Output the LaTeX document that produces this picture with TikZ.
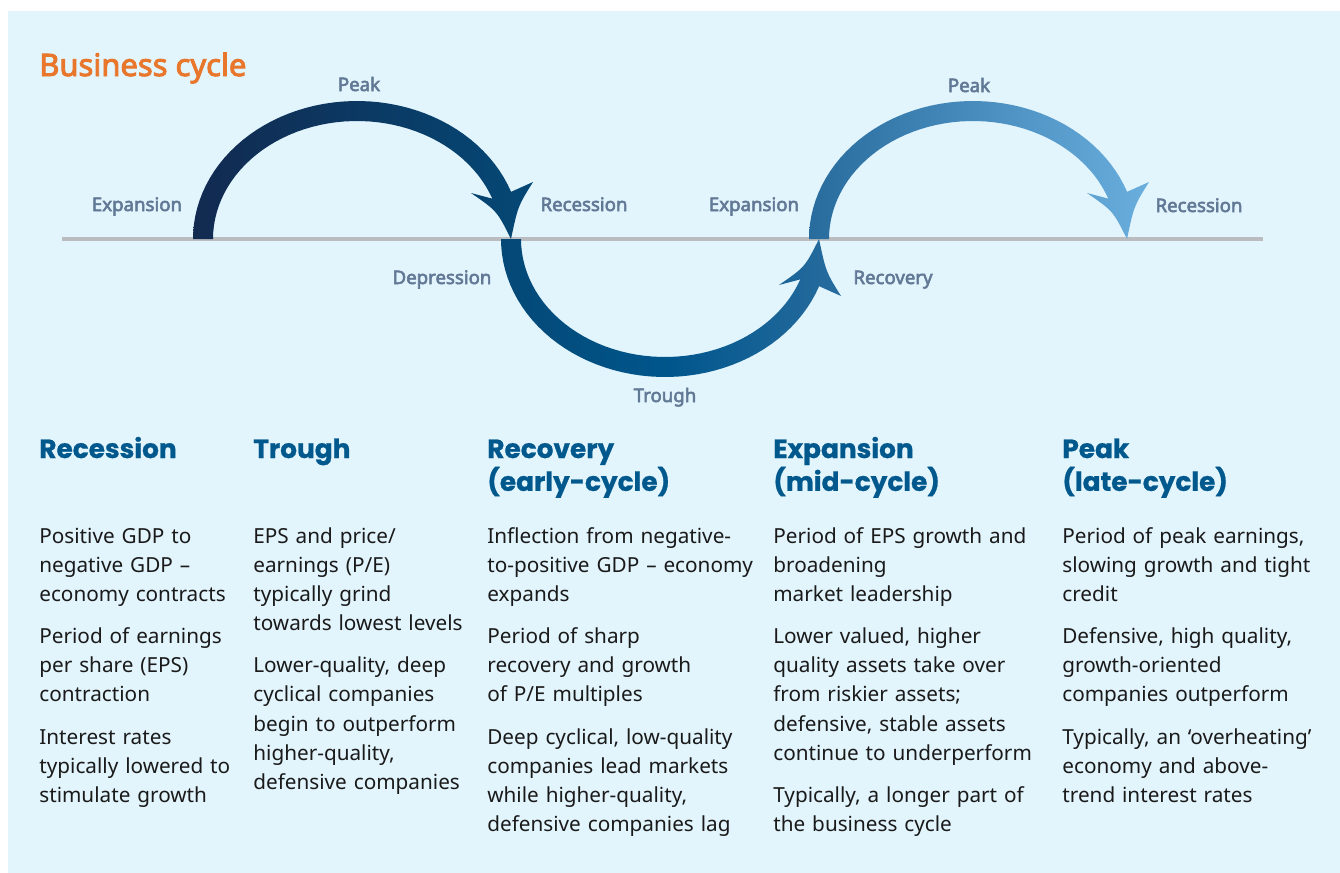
\documentclass[tikz,border=0pt]{standalone}
\usepackage{fontspec}
\setmainfont{Noto Sans}
\newfontfamily\boldsans{Noto Sans}[FakeBold=3]
\newfontfamily\headfont{Poppins}[BoldFeatures={FakeBold=0.8}]
\usepackage{xcolor}
\definecolor{panelbg}{RGB}{226,244,252}
\definecolor{titleor}{RGB}{232,118,43}
\definecolor{labelgr}{RGB}{98,121,150}
\definecolor{headbl}{RGB}{0,88,140}
\definecolor{bodytx}{RGB}{26,26,26}
\definecolor{axisgr}{RGB}{186,188,191}
\definecolor{arca}{RGB}{18,42,80}
\definecolor{arcb}{RGB}{4,72,118}
\definecolor{arcc}{RGB}{0,86,140}
\definecolor{arcd}{RGB}{40,108,158}
\definecolor{arce}{RGB}{106,174,222}
\usepackage{tikz}
\usetikzlibrary{calc}

\begin{document}
\begin{tikzpicture}[x=0.02cm,y=-0.02cm,
  phase/.style={anchor=base,inner sep=0,text=labelgr,font=\boldsans\fontsize{10.6}{12}\selectfont},
  colhead/.style={anchor=base west,inner sep=0,text=headbl,text width=5.4cm,align=left,font=\headfont\fontsize{15}{18.7}\selectfont\bfseries},
  coltext/.style={anchor=base west,inner sep=0,text=bodytx,text width=6cm,align=left,font=\fontsize{11.8}{16.6}\selectfont}]
  \useasboundingbox (0,0) rectangle (1340,873);
  \fill[panelbg] (8,11) rectangle (1340,873);

  \node[anchor=base west,inner sep=0,text=titleor,font=\boldsans\fontsize{17.6}{20}\selectfont] (title) at (39,76) {Business cycle};

  % the axis
  \coordinate (axisL) at (62,239);
  \coordinate (axisR) at (1263,239);
  \draw[axisgr,line width=0.08cm] (axisL) -- (axisR);

  % the three arrows, shaded left to right
  \foreach \cx/\flip/\lc/\mc/\rc in {357/-1/arca/arca!50!arcb/arcb,665/1/arcb/arcc/arcd,973/-1/arcd/arcd!50!arce/arce} {
    \begin{scope}[shift={(\cx,239)},yscale=\flip]
      \shade[left color=\lc,right color=\rc,middle color=\mc]
        plot[variable=\t,domain=180:20,samples=50] ({164*cos(\t)},{138*sin(\t)})
        -- (176,57)
        .. controls (161,33) .. (154,0)
        .. controls (140,28) .. (114,46)
        -- plot[variable=\t,domain=20:180,samples=50] ({144*cos(\t)},{118*sin(\t)})
        -- cycle;
    \end{scope}
  }

  % phase labels
  \node[phase] (expA) at (137,211) {Expansion};
  \node[phase] (peakA) at (359,91) {Peak};
  \node[phase] (recA) at (584,211) {Recession};
  \node[phase] (depr) at (442,284) {Depression};
  \node[phase] (trgh) at (665,402) {Trough};
  \node[phase] (expB) at (754,211) {Expansion};
  \node[phase] (recov) at (893,284) {Recovery};
  \node[phase] (peakB) at (969,92) {Peak};
  \node[phase] (recB) at (1199,212) {Recession};

  % columns
  \node[colhead] (hRec) at (39,458) {Recession};
  \node[colhead] (hTro) at (253,458) {Trough};
  \node[colhead] (hRcv) at (487,458) {Recovery\\(early-cycle)};
  \node[colhead] (hExp) at (773,458) {Expansion\\(mid-cycle)};
  \node[colhead] (hPk) at (1062,458) {Peak\\(late-cycle)};

  \node[coltext] (tRec) at (39,543) {Positive GDP to\\negative GDP –\\economy contracts\\[7.4pt]
    Period of earnings\\per share (EPS)\\contraction\\[7.4pt]
    Interest rates\\typically lowered to\\stimulate growth};
  \node[coltext] (tTro) at (253,543) {EPS and price/\\earnings (P/E)\\typically grind\\towards lowest levels\\[7.4pt]
    Lower-quality, deep\\cyclical companies\\begin to outperform\\higher-quality,\\defensive companies};
  \node[coltext] (tRcv) at (487,543) {Inflection from negative-\\to-positive GDP – economy\\expands\\[7.4pt]
    Period of sharp\\recovery and growth\\of P/E multiples\\[7.4pt]
    Deep cyclical, low-quality\\companies lead markets\\while higher-quality,\\defensive companies lag};
  \node[coltext] (tExp) at (773,543) {Period of EPS growth and\\broadening\\market leadership\\[7.4pt]
    Lower valued, higher\\quality assets take over\\from riskier assets;\\defensive, stable assets\\continue to underperform\\[7.4pt]
    Typically, a longer part of\\the business cycle};
  \node[coltext] (tPk) at (1062,543) {Period of peak earnings,\\slowing growth and tight\\credit\\[7.4pt]
    Defensive, high quality,\\growth-oriented\\companies outperform\\[7.4pt]
    Typically, an ‘overheating’\\economy and above-\\trend interest rates};
\end{tikzpicture}
\end{document}
